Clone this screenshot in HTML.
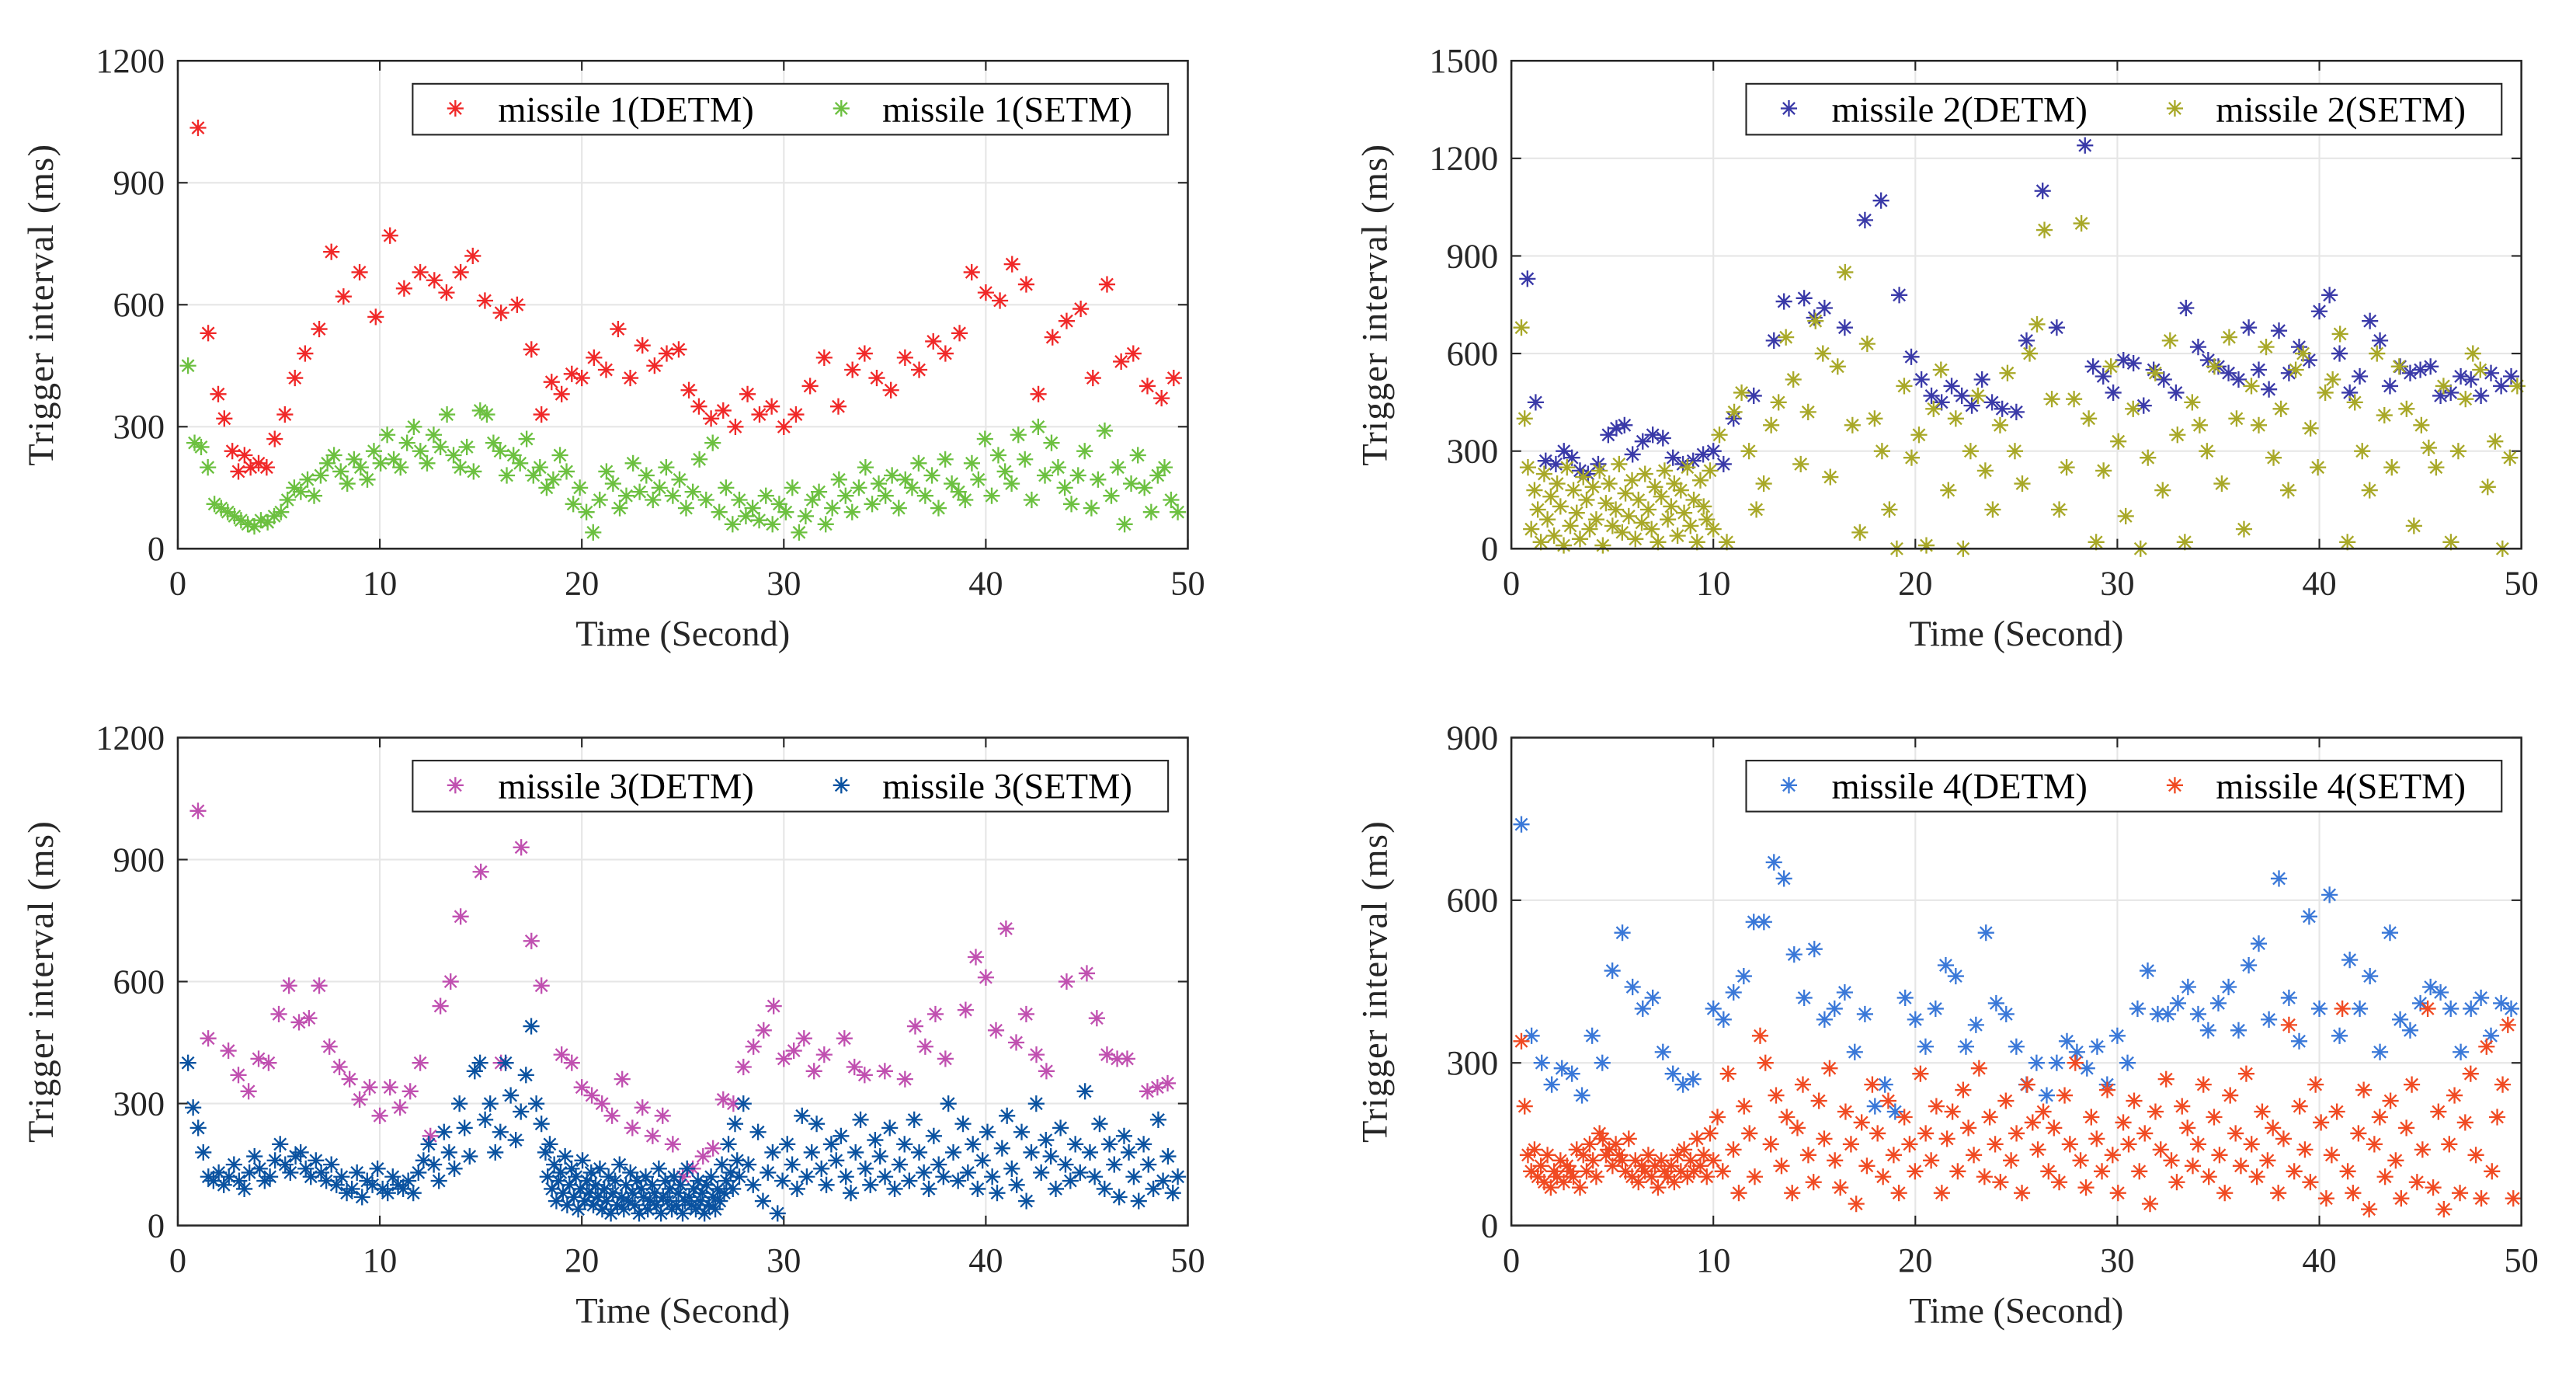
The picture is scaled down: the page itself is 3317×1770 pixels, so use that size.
<!DOCTYPE html>
<html><head><meta charset="utf-8"><style>
html,body{margin:0;padding:0;background:#fff;}
svg{display:block;font-family:"Liberation Serif",serif;}
svg text{font-family:"Liberation Serif",serif;}
</style></head><body>
<svg id="fig" width="3317" height="1770" viewBox="0 0 1568 837" xmlns="http://www.w3.org/2000/svg"></svg>
<script>
// ---------- data ----------
const xTicks=[0,10,20,30,40,50];
const yTicks1=[0,300,600,900,1200];
const yTicks2=[0,300,600,900,1200,1500];
const yTicks3=[0,300,600,900,1200];
const yTicks4=[0,300,600,900];

const r1T=[1,1.5,2,2.3,2.7,3,3.3,3.6,4,4.4,4.8,5.3,5.8,6.3,7,7.6,8.2,9,9.8,10.5,11.2,12,12.7,13.3,14,14.6,15.2,16,16.8,17.5,18,18.5,19,19.5,20,20.6,21.2,21.8,22.4,23,23.6,24.2,24.8,25.3,25.8,26.4,27,27.6,28.2,28.8,29.4,30,30.6,31.3,32,32.7,33.4,34,34.6,35.3,36,36.7,37.4,38,38.7,39.3,40,40.7,41.3,42,42.6,43.3,44,44.7,45.3,46,46.7,47.3,48,48.7,49.3];
const r1V=[1035,530,380,320,240,190,230,200,210,200,270,330,420,480,540,730,620,680,570,770,640,680,660,630,680,720,610,580,600,490,330,410,380,430,420,470,440,540,420,500,450,480,490,390,350,320,340,300,380,330,350,300,330,400,470,350,440,480,420,390,470,440,510,480,530,680,630,610,700,650,380,520,560,590,420,650,460,480,400,370,420];
const g1V=[450,260,250,200,110,100,90,80,70,60,55,70,65,80,90,120,150,140,170,130,180,210,230,190,160,220,200,170,240,210,280,220,200,260,300,240,210,280,250,330,230,200,250,190,340,330,260,240,180,230,210,270,180,200,150,170,230,190,110,150,90,40,120,190,160,100,130,210,140,180,120,150,200,130,170,100,140,220,120,260,90,150,60,120,80,100,70,130,60,110,90,150,40,80,120,140,60,100,170,130,90,150,200,110,160,130,180,100,170,150,210,130,180,100,220,160,140,120,210,170,270,130,230,190,160,280,220,120,300,180,260,200,150,110,180,240,100,170,290,130,200,60,160,230,150,90,180,200,120,90];

const b2T=[0.8,1.2,1.7,2.2,2.6,3,3.4,3.8,4.3,4.8,5.2,5.6,6,6.5,7,7.5,8,8.5,9,9.5,10,10.5,11,12,13,13.5,14.5,15,15.5,16.5,17.5,18.3,19.2,19.8,20.3,20.8,21.3,21.8,22.3,22.8,23.3,23.8,24.3,25,25.5,26.3,27,28.4,28.8,29.3,29.8,30.3,30.8,31.3,31.8,32.3,32.9,33.4,34,34.5,35,35.5,36,36.5,37,37.5,38,38.5,39,39.5,40,40.5,41,41.5,42,42.5,43,43.5,44,44.5,45,45.5,46,46.5,47,47.5,48,48.5,49,49.5];
const b2V=[830,450,270,260,300,280,240,230,260,350,370,380,290,330,350,340,280,260,270,290,300,260,400,470,640,760,770,710,740,680,1010,1070,780,590,520,470,450,500,470,440,520,450,430,420,640,1100,680,1240,560,530,480,580,570,440,550,520,480,740,620,580,560,540,520,680,550,490,670,540,620,580,730,780,600,480,530,700,640,500,560,540,550,560,470,480,530,520,470,540,500,530];
const o2V=[680,400,250,60,180,120,20,230,90,160,40,200,130,10,250,70,180,110,30,220,150,60,190,90,240,10,140,200,70,120,260,50,170,100,210,30,150,80,230,120,60,190,20,160,240,90,130,200,40,180,110,250,70,150,20,210,130,90,240,60,
350,20,420,480,300,120,200,380,450,650,520,260,420,700,600,220,560,850,380,50,630,400,300,120,0,500,280,350,10,430,550,180,400,0,300,470,240,120,380,540,300,200,600,690,980,460,120,250,460,1000,400,20,240,560,330,100,430,0,280,540,180,640,350,20,450,380,300,560,200,650,400,60,500,380,620,280,430,180,550,600,370,250,480,520,660,20,450,300,180,600,410,250,560,430,70,380,310,250,500,20,300,460,600,550,190,330,0,280,500];

const m3T=[1,1.5,2.5,3,3.5,4,4.5,5,5.5,6,6.5,7,7.5,8,8.5,9,9.5,10,10.5,11,11.5,12,12.5,13,13.5,14,15,16,17,17.5,18,19,19.5,20,20.5,21,21.5,22,22.5,23,23.5,24,24.5,25,25.5,26,26.5,27,27.5,28,28.5,29,29.5,30,30.5,31,31.5,32,33,33.5,34,35,36,36.5,37,37.5,38,39,39.5,40,40.5,41,41.5,42,42.5,43,44,45,45.5,46,46.5,47,48,48.5,49];
const m3V=[1020,460,430,370,330,410,400,520,590,500,510,590,440,390,360,310,340,270,340,290,330,400,220,540,600,760,870,400,930,700,590,420,400,340,320,300,270,360,240,290,220,270,200,120,140,170,190,310,300,390,440,480,540,410,430,460,380,420,460,390,370,380,360,490,440,520,410,530,660,610,480,730,450,520,420,380,600,620,510,420,410,410,330,340,350];
const b3V=[400,290,240,180,120,110,130,100,120,150,110,90,130,170,140,110,120,160,200,150,130,170,180,140,120,160,130,110,150,100,120,80,90,130,70,110,100,140,90,80,120,100,90,110,80,130,160,200,150,110,230,180,140,300,240,170,380,400,260,300,180,230,400,320,210,280,370,490,300,250,
180,120,200,90,150,60,110,130,80,170,50,100,140,70,120,40,90,160,60,110,80,130,50,100,70,140,40,90,60,120,30,80,110,50,150,70,40,100,60,130,80,50,110,30,90,70,120,40,60,100,80,50,140,30,70,110,60,90,40,120,50,80,100,30,60,140,70,50,90,40,110,60,80,30,100,50,120,70,40,90,60,150,80,110,200,130,90,250,160,120,
300,150,100,230,60,130,180,30,110,200,150,90,270,120,180,250,140,100,200,160,220,120,80,180,260,140,100,210,170,120,240,90,150,200,110,260,180,130,90,220,150,120,300,180,110,250,130,200,90,160,230,120,80,190,270,140,100,230,60,180,300,130,210,170,90,240,150,110,200,130,330,180,120,250,90,200,150,70,220,180,120,60,200,150,90,260,110,170,80,120];

const c4T=[0.5,1,1.5,2,2.5,3,3.5,4,4.5,5,5.5,6,6.5,7,7.5,8,8.5,9,10,10.5,11,11.5,12,12.5,13,13.5,14,14.5,15,15.5,16,16.5,17,17.5,18,18.5,19,19.5,20,20.5,21,21.5,22,22.5,23,23.5,24,24.5,25,25.5,26,26.5,27,27.5,28,28.5,29,29.5,30,30.5,31,31.5,32,32.5,33,33.5,34,34.5,35,35.5,36,36.5,37,37.5,38,38.5,39,39.5,40,40.5,41,41.5,42,42.5,43,43.5,44,44.5,45,45.5,46,46.5,47,47.5,48,48.5,49,49.5];
const c4V=[740,350,300,260,290,280,240,350,300,470,540,440,400,420,320,280,260,270,400,380,430,460,560,560,670,640,500,420,510,380,400,430,320,390,220,260,210,420,380,330,400,480,460,330,370,540,410,390,330,260,300,240,300,340,320,290,330,260,350,300,400,470,390,390,410,440,390,360,410,440,360,480,520,380,640,420,340,570,400,610,350,490,400,460,320,540,380,360,410,440,430,400,320,400,420,350,410,400];
const r4V=[340,220,130,100,140,90,110,80,130,70,100,90,120,80,110,100,90,140,70,130,100,150,120,90,170,160,130,140,110,150,130,120,100,160,90,120,80,110,100,130,90,110,70,120,100,90,110,80,130,100,140,90,120,100,160,110,130,90,170,120,
200,100,280,140,60,220,170,90,350,300,150,240,110,200,60,180,260,130,80,230,160,290,120,70,210,150,40,190,110,260,170,90,230,130,60,200,150,100,280,170,120,220,60,160,210,100,250,180,130,290,90,200,150,80,230,120,170,60,260,190,140,210,100,180,80,240,150,300,120,70,200,160,100,250,130,60,190,150,230,100,170,40,210,140,270,120,80,220,180,110,150,260,90,200,130,60,240,170,110,280,150,90,210,120,180,60,160,370,100,220,140,80,260,190,50,130,210,400,100,60,170,250,30,150,200,90,230,120,50,180,260,80,140,400,70,210,30,150,240,60,190,280,130,50,330,100,200,260,370,50];

// ---------- drawing ----------
const NS="http://www.w3.org/2000/svg";
const fig=document.getElementById('fig');
function mk(tag,attrs,parent){const e=document.createElementNS(NS,tag);for(const k in attrs)e.setAttribute(k,attrs[k]);(parent||fig).appendChild(e);return e;}
function segTimes(segs,total){const out=[];let used=0;segs.forEach((s,i)=>{const n=(i===segs.length-1)?(total-used):s[2];used+=n;for(let j=0;j<n;j++)out.push(s[0]+(s[1]-s[0])*j/Math.max(1,n-1));});return out;}
function evenTimes(n,a,b){const o=[];for(let i=0;i<n;i++)o.push(a+(b-a)*i/(n-1));return o;}
const STAR="M-5,0H5M0,-5V5M-3.6,-3.6L3.6,3.6M-3.6,3.6L3.6,-3.6";
const FF='"Liberation Serif", serif';

function panel(p){
  const L=p.x,R=p.x+615,T=p.y,B=p.y+297,ymax=p.yt[p.yt.length-1];
  const sx=t=>L+(t/50)*(R-L), sy=v=>B-(v/ymax)*(B-T);
  const g=mk('g',{});
  
  
  mk('rect',{x:L,y:T,width:R-L,height:B-T,fill:'#fff'},g);
  xTicks.forEach(t=>{
    if(t>0&&t<50)mk('line',{x1:sx(t),x2:sx(t),y1:T,y2:B,stroke:'#e6e6e6','stroke-width':1},g);
    mk('line',{x1:sx(t),x2:sx(t),y1:B,y2:B-6,stroke:'#262626','stroke-width':1},g);
    mk('line',{x1:sx(t),x2:sx(t),y1:T,y2:T+6,stroke:'#262626','stroke-width':1},g);
    const tx=mk('text',{x:sx(t),y:B+28,'font-size':21,'font-family':FF,'text-anchor':'middle',fill:'#262626'},g);
    tx.textContent=t;
    
    
  });
  p.yt.forEach(v=>{
    if(v>0&&v<ymax)mk('line',{x1:L,x2:R,y1:sy(v),y2:sy(v),stroke:'#e6e6e6','stroke-width':1},g);
    mk('line',{x1:L,x2:L+6,y1:sy(v),y2:sy(v),stroke:'#262626','stroke-width':1},g);
    mk('line',{x1:R,x2:R-6,y1:sy(v),y2:sy(v),stroke:'#262626','stroke-width':1},g);
    const tx=mk('text',{x:L-8,y:sy(v)+7,'font-size':21,'font-family':FF,'text-anchor':'end',fill:'#262626'},g);
    tx.textContent=v;
    
    
  });
  p.series.forEach(s=>{
    const n=Math.min(s.t.length,s.v.length);
    for(let i=0;i<n;i++){
      const m=mk('path',{d:STAR,transform:`translate(${sx(s.t[i]).toFixed(1)},${sy(s.v[i]).toFixed(1)})`,stroke:s.c,'stroke-width':1.1,fill:'none'},g);
      
      
    }
  });
  mk('rect',{x:L,y:T,width:R-L,height:B-T,fill:'none',stroke:'#262626','stroke-width':1.2},g);
  const xl=mk('text',{x:(L+R)/2,y:B+59,'font-size':22,'font-family':FF,'text-anchor':'middle',fill:'#262626'},g);
  xl.textContent='Time (Second)';
  
  
  const yl=mk('text',{x:0,y:0,'font-size':22,'font-family':FF,'text-anchor':'middle',fill:'#262626','letter-spacing':'0.6',transform:`translate(${L-76},${(T+B)/2}) rotate(-90)`},g);
  yl.textContent='Trigger interval (ms)';
  
  
  const lx=L+143,ly=T+14;
  const lg=mk('g',{},g);
  
  
  mk('rect',{x:lx,y:ly,width:460,height:31,fill:'#fff',stroke:'#262626','stroke-width':1},lg);
  [[26,52],[261,286]].forEach((o,k)=>{
    const s=p.series[k];
    mk('path',{d:STAR,transform:`translate(${lx+o[0]},${ly+15})`,stroke:s.c,'stroke-width':1.1,fill:'none'},lg);
    const t=mk('text',{x:lx+o[1],y:ly+23,'font-size':22,'font-family':FF,fill:'#000'},lg);
    t.textContent=s.label;
    
    
  });
}

panel({name:'panel-missile-1',x:108,y:37,yt:yTicks1,series:[
  {id:'missile1-detm',label:'missile 1(DETM)',c:'#f02828',t:r1T,v:r1V},
  {id:'missile1-setm',label:'missile 1(SETM)',c:'#6cc040',t:evenTimes(g1V.length,0.5,49.5),v:g1V}]});
panel({name:'panel-missile-2',x:920,y:37,yt:yTicks2,series:[
  {id:'missile2-detm',label:'missile 2(DETM)',c:'#3a3aa8',t:b2T,v:b2V},
  {id:'missile2-setm',label:'missile 2(SETM)',c:'#a8a828',t:segTimes([[0.5,10,60],[10.3,49.8,0]],o2V.length),v:o2V}]});
panel({name:'panel-missile-3',x:108,y:449,yt:yTicks3,series:[
  {id:'missile3-detm',label:'missile 3(DETM)',c:'#c050b0',t:m3T,v:m3V},
  {id:'missile3-setm',label:'missile 3(SETM)',c:'#0a52a0',t:segTimes([[0.5,18,70],[18.2,27.8,90],[28,49.5,0]],b3V.length),v:b3V}]});
panel({name:'panel-missile-4',x:920,y:449,yt:yTicks4,series:[
  {id:'missile4-detm',label:'missile 4(DETM)',c:'#3a78d8',t:c4T,v:c4V},
  {id:'missile4-setm',label:'missile 4(SETM)',c:'#f04a22',t:segTimes([[0.5,10,60],[10.2,49.6,0]],r4V.length),v:r4V}]});
</script>
</body></html>
